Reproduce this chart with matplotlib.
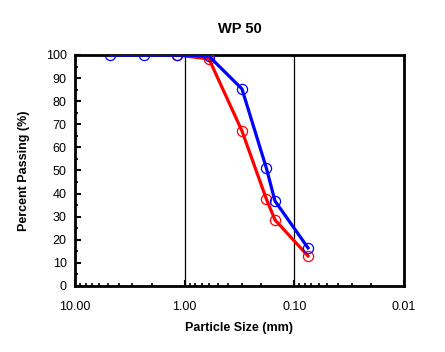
import matplotlib
matplotlib.use("Agg")
import matplotlib.pyplot as plt
from matplotlib.ticker import FixedLocator, LogLocator, MultipleLocator, NullFormatter

plt.rcParams['font.family'] = ['Liberation Sans', 'DejaVu Sans']

# --- veriler ---
size_blue = [4.75, 2.36, 1.18, 0.6, 0.3, 0.18, 0.15, 0.075]
pass_blue = [100, 100, 100, 99.5, 85.3, 51.1, 36.8, 16.5]
size_red = [1.18, 0.6, 0.3, 0.18, 0.15, 0.075]
pass_red = [100, 98.3, 67.1, 37.7, 28.6, 13.0]
x_ticks = [10, 1, 0.1, 0.01]
x_labels = ["10.00", "1.00", "0.10", "0.01"]
grid_x = [1, 0.1]

fig = plt.figure(figsize=(4.45, 3.52), dpi=100)
ax = fig.add_axes([0.1685, 0.1875, 0.7393, 0.6563])

for gx in grid_x:
    ax.axvline(gx, color='black', lw=0.9, zorder=1)

ax.plot(size_red, pass_red, '-', color='#ff0000', lw=2.3, zorder=2)
ax.plot(size_red, pass_red, 'o', mfc='none', mec='#ff0000', ms=7.3, mew=0.9, zorder=3)
ax.plot(size_blue, pass_blue, '-', color='#0000ff', lw=2.3, zorder=4)
ax.plot(size_blue, pass_blue, 'o', mfc='none', mec='#0000ff', ms=7.3, mew=0.9, zorder=5)

ax.set_xscale('log')
ax.set_xlim(10, 0.01)
ax.set_ylim(0, 100)
ax.xaxis.set_major_locator(FixedLocator(x_ticks))
ax.set_xticklabels(x_labels)
ax.xaxis.set_minor_locator(LogLocator(base=10, subs=range(2, 10)))
ax.xaxis.set_minor_formatter(NullFormatter())
ax.yaxis.set_major_locator(MultipleLocator(10))
ax.yaxis.set_minor_locator(MultipleLocator(5))

ax.tick_params(axis='both', which='major', direction='in', length=4, width=1.5,
               labelsize=9, top=False, right=False)
ax.tick_params(axis='y', which='major', pad=6)
ax.tick_params(axis='x', which='major', pad=11)
ax.tick_params(axis='both', which='minor', direction='in', length=2.5, width=1.2,
               top=False, right=False)
for sp in ax.spines.values():
    sp.set_linewidth(2)

ax.set_title("WP 50", fontsize=10.5, fontweight='bold', pad=16)
ax.set_xlabel("Particle Size (mm)", fontsize=9, fontweight='bold', labelpad=6)
ax.set_ylabel("Percent Passing (%)", fontsize=9, fontweight='bold', labelpad=11)

fig.savefig("out.png", dpi=100)
